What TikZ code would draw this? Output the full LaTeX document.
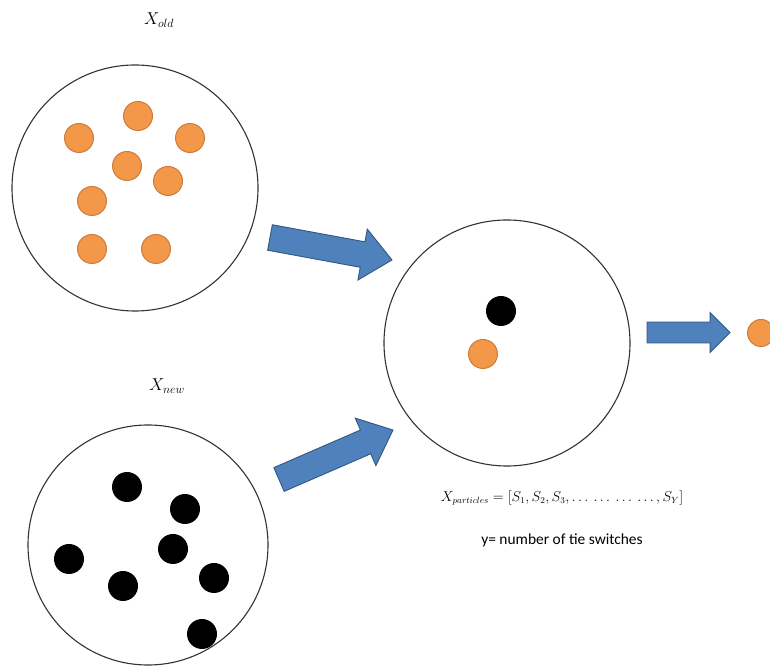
\documentclass[tikz,border=0pt]{standalone}
\usepackage{fontspec}
\setmainfont{Carlito}
\usetikzlibrary{calc}

\definecolor{dotorange}{RGB}{243,151,72}
\definecolor{dotedge}{RGB}{206,124,58}
\definecolor{arrowblue}{RGB}{79,129,189}
\definecolor{arrowedge}{RGB}{52,86,130}

% block arrow from #1 to #2: shaft half width, head half width, head length
\newcommand{\fatarrow}[5]{%
	\draw[fat] let \p1=($(#2)-(#1)$), \n1={atan2(\y1,\x1)}, \n2={veclen(\x1,\y1)} in
		[shift={(#1)}, rotate=\n1]
		(0pt,-#3) -- ({\n2*1pt-#5},-#3) -- ({\n2*1pt-#5},-#4) -- ({\n2*1pt},0pt)
		-- ({\n2*1pt-#5},#4) -- ({\n2*1pt-#5},#3) -- (0pt,#3) -- cycle;}

\begin{document}
\begin{tikzpicture}[x=1bp, y=1bp]

	\tikzstyle{pool}=[circle, draw=black!80, line width=1.1bp, minimum size=246bp, inner sep=0pt]
	\tikzstyle{odot}=[circle, fill=dotorange, draw=dotedge, line width=1bp, minimum size=29bp, inner sep=0pt]
	\tikzstyle{bdot}=[circle, fill=black, minimum size=30bp, inner sep=0pt]
	\tikzstyle{fat}=[fill=arrowblue, draw=arrowedge, line width=0.9bp, line join=miter]
	\useasboundingbox (0,0) rectangle (770,668);

	\node[pool] (old) at (135,480) {};
	\node[pool, minimum size=240bp] (new) at (148,123) {};
	\node[pool] (mid) at (507,325) {};

	\node (lold) at (159,648) {\fontsize{18.5}{21}\selectfont $X_{old}$};
	\node (lnew) at (167,282) {\fontsize{18.5}{21}\selectfont $X_{new}$};

	% old particles
	\node[odot] (o1) at (138,552) {};
	\node[odot] (o2) at (79,530) {};
	\node[odot] (o3) at (190,530) {};
	\node[odot] (o4) at (127,502) {};
	\node[odot] (o5) at (168,487) {};
	\node[odot] (o6) at (92,467) {};
	\node[odot] (o7) at (92,419) {};
	\node[odot] (o8) at (156,419) {};

	% new particles
	\node[bdot] (n1) at (127,181) {};
	\node[bdot] (n2) at (185,159) {};
	\node[bdot] (n3) at (173,119) {};
	\node[bdot] (n4) at (69,109) {};
	\node[bdot] (n5) at (123,82) {};
	\node[bdot] (n6) at (214,90) {};
	\node[bdot] (n7) at (202,34) {};

	% merged pool
	\node[bdot] (m1) at (501,357) {};
	\node[odot] (m2) at (483,314) {};
	\node[odot, minimum size=27bp] (best) at (761,335) {};

	\node (form) at (562,170) {\fontsize{13.5}{16}\selectfont $X_{particles} = [S_1, S_2, S_3, \ldots\ \ldots\ \ldots\ \ldots, S_Y]$};
	\node (note) at (562,128) {\fontsize{15.5}{18}\selectfont y= number of tie switches};

	\coordinate (t1) at (270,430.5);
	\coordinate (h1) at (392,408);
	\coordinate (t2) at (279,188.5);
	\coordinate (h2) at (393,238);
	\coordinate (t3) at (647,335.5);
	\coordinate (h3) at (730,335.5);

	\fatarrow{t1}{h1}{13pt}{26pt}{30pt}
	\fatarrow{t2}{h2}{13pt}{26pt}{30pt}
	\fatarrow{t3}{h3}{10.5pt}{20pt}{20pt}

\end{tikzpicture}
\end{document}
